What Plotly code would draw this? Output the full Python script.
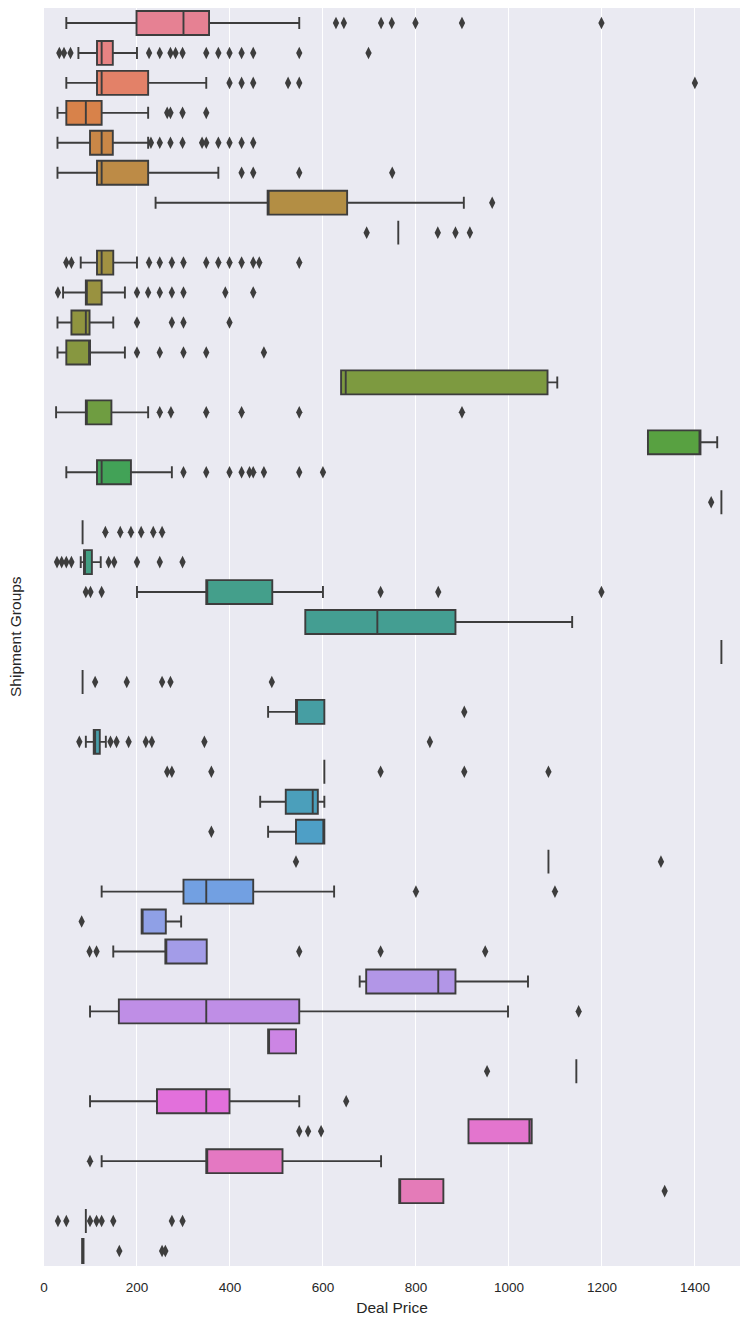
import math
import colorsys
import plotly.graph_objects as go

# ---- data (one entry per shipment group, top to bottom) ----
low_whisker = [48, 74, 48, 29, 29, 29, 240, 762, 79, 41, 29, 29, 639, 26, 1299, 48, 1457, 83, 79, 200,
               562, 1457, 83, 482, 90, 603, 465, 482, 1085, 124, 210, 149, 679, 99, 482, 1145, 99, 913,
               124, 764, 90, 82]
q1 = [199, 114, 114, 48, 99, 114, 481, 762, 114, 90, 59, 48, 639, 90, 1299, 114, 1457, 83, 86, 349,
      562, 1457, 83, 542, 107, 603, 520, 542, 1085, 300, 210, 261, 693, 161, 482, 1145, 243, 913,
      349, 764, 90, 82]
median = [300, 124, 124, 90, 124, 124, 481, 762, 124, 90, 90, 98, 649, 90, 1412, 124, 1457, 83, 88, 349,
          717, 1457, 83, 542, 110, 603, 578, 603, 1085, 349, 210, 261, 848, 349, 482, 1145, 349, 1044,
          349, 764, 90, 83]
q3 = [355, 148, 224, 124, 148, 224, 652, 762, 149, 124, 98, 99, 1083, 145, 1412, 187, 1457, 83, 103, 491,
      885, 1457, 83, 603, 120, 603, 589, 603, 1085, 450, 262, 350, 885, 549, 542, 1145, 399, 1049,
      513, 859, 90, 85]
high_whisker = [549, 200, 349, 224, 224, 375, 903, 762, 200, 174, 149, 174, 1104, 224, 1448, 275, 1457, 83, 122, 600,
                1136, 1457, 83, 603, 133, 603, 603, 603, 1085, 624, 295, 350, 1041, 998, 542, 1145, 549, 1049,
                725, 859, 90, 85]
outliers = [
    [628, 645, 725, 748, 799, 899, 1199],
    [33, 43, 57, 226, 249, 272, 283, 298, 349, 375, 399, 425, 450, 549, 698],
    [399, 425, 450, 525, 549, 1400],
    [265, 272, 298, 349],
    [230, 249, 272, 298, 340, 349, 375, 399, 425, 450],
    [425, 450, 549, 749],
    [964],
    [694, 847, 885, 916],
    [48, 59, 226, 249, 275, 300, 349, 375, 399, 425, 450, 463, 549],
    [30, 200, 224, 249, 275, 300, 390, 450],
    [200, 275, 300, 399],
    [200, 249, 300, 349, 473],
    [],
    [249, 273, 349, 425, 549, 899],
    [],
    [300, 349, 399, 425, 442, 450, 473, 549, 600],
    [1435],
    [132, 164, 187, 209, 235, 254],
    [28, 38, 48, 59, 139, 151, 200, 249, 298],
    [90, 100, 124, 724, 848, 1199],
    [],
    [],
    [110, 178, 254, 272, 490],
    [904],
    [76, 143, 156, 182, 219, 232, 345, 830],
    [265, 275, 360, 724, 904, 1085],
    [],
    [360],
    [542, 1327],
    [800, 1099],
    [81],
    [98, 113, 549, 724, 949],
    [],
    [1150],
    [],
    [953],
    [650],
    [549, 568, 596],
    [99],
    [1335],
    [30, 48, 99, 113, 124, 149, 275, 298],
    [162, 254, 261],
]
x_ticks = [0, 200, 400, 600, 800, 1000, 1200, 1400]

# ---- seaborn-like husl palette ----
_M = [[3.2406, -1.5372, -0.4986], [-0.9689, 1.8758, 0.0415], [0.0557, -0.2040, 1.0570]]
_refU, _refV, _kappa, _eps = 0.19784, 0.46834, 903.2963, 0.0088564


def _max_chroma(L, H):
    hrad = math.radians(H)
    sinH, cosH = math.sin(hrad), math.cos(hrad)
    sub1 = (L + 16) ** 3 / 1560896.0
    sub2 = sub1 if sub1 > _eps else L / _kappa
    res = float("inf")
    for m1, m2, m3 in _M:
        top = (0.99915 * m1 + 1.05122 * m2 + 1.14460 * m3) * sub2
        rb = 0.86330 * m3 - 0.17266 * m2
        lb = 0.12949 * m3 - 0.38848 * m1
        bottom = (rb * sinH + lb * cosH) * sub2
        for t in (0.0, 1.0):
            C = L * (top - 1.05122 * t) / (bottom + 0.17266 * sinH * t)
            if 0 < C < res:
                res = C
    return res


def _from_linear(c):
    return 12.92 * c if c <= 0.0031308 else 1.055 * c ** (1 / 2.4) - 0.055


def husl_to_rgb(H, S, L):
    C = _max_chroma(L, H) / 100.0 * S
    hrad = math.radians(H)
    U, V = math.cos(hrad) * C, math.sin(hrad) * C
    varY = ((L + 16) / 116.0) ** 3 if L > 8 else L / _kappa
    varU = U / (13 * L) + _refU
    varV = V / (13 * L) + _refV
    Y = varY
    X = -(9 * Y * varU) / ((varU - 4.0) * varV - varU * varV)
    Z = (9 * Y - 15 * varV * Y - varV * X) / (3 * varV)
    rgb = [_from_linear(r[0] * X + r[1] * Y + r[2] * Z) for r in _M]
    return [min(1, max(0, c)) for c in rgb]


n = len(q1)
colors = []
for i in range(n):
    h = ((i / n) + 0.01) % 1 * 359
    r, g, b = husl_to_rgb(h, 0.9 * 99, 0.65 * 99)
    hh, ll, ss = colorsys.rgb_to_hls(r, g, b)
    r, g, b = colorsys.hls_to_rgb(hh, ll, ss * 0.75)
    colors.append("rgb(%d,%d,%d)" % (round(r * 255), round(g * 255), round(b * 255)))

LINE = "#3d3d3d"
fig = go.Figure()
for i in range(n):
    fig.add_trace(go.Box(
        orientation="h", y=[i], q1=[q1[i]], median=[median[i]], q3=[q3[i]],
        lowerfence=[low_whisker[i]], upperfence=[high_whisker[i]],
        fillcolor=colors[i], line=dict(color=LINE, width=1.9),
        width=0.8, whiskerwidth=0.5, boxpoints=False, showlegend=False, hoverinfo="skip",
    ))

ox, oy = [], []
for i, vals in enumerate(outliers):
    for v in vals:
        ox.append(v)
        oy.append(i)
fig.add_trace(go.Scatter(
    x=ox, y=oy, mode="markers", showlegend=False, hoverinfo="skip",
    marker=dict(symbol="diamond-tall", size=9, color=LINE, line=dict(width=0)),
))

# page body adds an 8px offset, so the figure is sized/margined to compensate
fig.update_layout(
    width=742, height=1316,
    margin=dict(l=36, r=10, t=0, b=58),
    paper_bgcolor="white", plot_bgcolor="#EAEAF2",
    font=dict(family="Liberation Sans, Arial, sans-serif", color="#262626"),
    xaxis=dict(
        range=[0, 1497], tickvals=x_ticks, ticktext=[str(t) for t in x_ticks],
        showgrid=True, gridcolor="white", gridwidth=1.3, zeroline=False, showline=False,
        ticks="outside", ticklen=9, tickcolor="rgba(0,0,0,0)",
        tickfont=dict(size=13.5),
        title=dict(text="Deal Price", font=dict(size=15.5), standoff=7),
        automargin=False,
    ),
    yaxis=dict(
        range=[n - 0.5, -0.5], showticklabels=False, showgrid=False, zeroline=False,
        showline=False, ticks="", automargin=False,
    ),
    annotations=[dict(
        text="Shipment Groups", xref="paper", yref="paper", x=-29 / 696, y=0.5,
        xanchor="center", yanchor="middle", textangle=-90, showarrow=False,
        font=dict(size=15.5, color="#262626"),
    )],
)

fig.write_html("out.html")
